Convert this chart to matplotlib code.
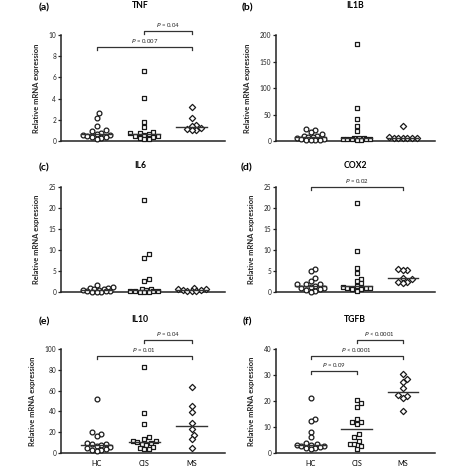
import numpy as np
import matplotlib
matplotlib.use('Agg')
import matplotlib.pyplot as plt

plt.rcParams['font.family'] = ['Lato', 'DejaVu Sans']

groups = ['HC', 'CIS', 'MS']
markers_ = ['o', 's', 'D']

# values, per panel and group
tnf_hc = [2.6, 2.2, 1.4, 1.0, 0.9, 0.8, 0.7, 0.6, 0.55, 0.5, 0.4, 0.35, 0.3, 0.2]
tnf_cis = [6.6, 4.1, 1.75, 1.3, 0.85, 0.8, 0.75, 0.7, 0.6, 0.5, 0.45, 0.4, 0.3, 0.2, 0.15]
tnf_ms = [3.2, 2.15, 1.5, 1.45, 1.2, 1.15, 1.05, 1.0]

il1b_hc = [22, 20, 17.5, 13, 9.5, 8.5, 8, 7, 5, 4, 3, 2.5, 2, 1.5, 1]
il1b_cis = [183, 63, 41, 28, 18, 6, 5.5, 5, 4.5, 4, 3.5, 3, 3, 2.5, 2]
il1b_ms = [29, 7, 6.5, 6, 6, 5.5, 5, 5]

il6_hc = [1.6, 1.2, 1.0, 0.9, 0.7, 0.6, 0.5, 0.4, 0.3, 0.2, 0.15, 0.1, 0.1, 0.05]
il6_cis = [21.8, 9.0, 8.2, 3.2, 2.6, 0.7, 0.6, 0.4, 0.3, 0.25, 0.2, 0.15, 0.1, 0.1, 0.05]
il6_ms = [0.9, 0.8, 0.7, 0.5, 0.4, 0.3, 0.2, 0.2]

cox2_hc = [5.5, 5.0, 3.4, 2.6, 1.9, 1.8, 1.8, 1.5, 1.3, 1.0, 0.9, 0.8, 0.5, 0.3, 0.1]
cox2_cis = [21.1, 9.8, 5.7, 4.5, 3.2, 2.6, 2.1, 1.5, 1.1, 1.0, 1.0, 1.0, 0.8, 0.6, 0.3]
cox2_ms = [5.5, 5.3, 5.2, 3.4, 3.1, 2.5, 2.3, 2.2]

il10_hc = [52, 20, 18, 16.5, 10, 9, 8.5, 8, 7, 6, 5, 4, 3, 2.5, 2]
il10_cis = [83, 38, 28, 15, 13, 12, 12, 11, 10, 9, 8, 6, 5, 4, 4]
il10_ms = [63, 45, 39, 29, 23, 17, 13, 5]

tgfb_hc = [21, 13, 12.4, 8.1, 6.2, 3.9, 3.6, 3.1, 3.0, 2.6, 2.6, 2.3, 2.1, 2.1, 1.5]
tgfb_cis = [20.2, 19.2, 17.8, 13, 12, 12, 11, 7.5, 6.2, 4.8, 3.5, 3.3, 2.8, 1.6]
tgfb_ms = [30.5, 28.5, 27.2, 25, 22.2, 22, 21, 16.2]

titles = ['TNF', 'IL1B', 'IL6', 'COX2', 'IL10', 'TGFB']
letters = ['(a)', '(b)', '(c)', '(d)', '(e)', '(f)']
ymax = [10, 200, 25, 25, 100, 40]
ystep = [2, 50, 5, 5, 20, 10]
data = [
    [tnf_hc, tnf_cis, tnf_ms],
    [il1b_hc, il1b_cis, il1b_ms],
    [il6_hc, il6_cis, il6_ms],
    [cox2_hc, cox2_cis, cox2_ms],
    [il10_hc, il10_cis, il10_ms],
    [tgfb_hc, tgfb_cis, tgfb_ms],
]
# significance brackets: (group from, group to, height, label)
brackets = [
    [(1, 2, 10.4, '0.04', '='), (0, 2, 8.9, '0.007', '=')],
    [],
    [],
    [(0, 2, 25.0, '0.02', '=')],
    [(1, 2, 109, '0.04', '='), (0, 2, 93.5, '0.01', '=')],
    [(1, 2, 43.6, '0.0001', '<'), (0, 2, 37.2, '0.0001', '<'), (0, 1, 31.6, '0.09', '=')],
]

W = H = 474
fig = plt.figure(figsize=(4.74, 4.74), dpi=100)

col_px = [(61, 225), (276, 435)]
row_px = [(35, 141), (187, 292), (349, 453)]
title_y = [5, 165, 319]
title_x = [140, 355]
letter_x = [44, 247]
letter_y = [8, 168, 322]

XLIM = (-0.75, 2.7)
DIAM = 4.6    # marker spacing in px for the swarm
MAXW = 0.36   # widest offset from the group centre (data units)


def swarm(vals, w_px, h_px, top):
    # simple beeswarm with a width cap: returns x offsets (data units)
    sx = w_px / (XLIM[1] - XLIM[0])
    sy = h_px / top
    cands = [0.0]
    k = 1
    while k * DIAM * 0.5 <= MAXW * sx:
        cands += [k * DIAM * 0.5, -k * DIAM * 0.5]
        k += 1
    order = np.argsort(vals)
    placed = []
    offs = np.zeros(len(vals))
    for i in order:
        yp = vals[i] * sy
        best, best_d = 0.0, -1
        for cx in cands:
            d = min([np.hypot(cx - px, yp - py) for px, py in placed] or [99])
            if d >= DIAM:
                best = cx
                break
            if d > best_d:
                best, best_d = cx, d
        placed.append((best, yp))
        offs[i] = best / sx
    return offs


for n in range(6):
    r, c = n // 2, n % 2
    x0, x1 = col_px[c]
    t0, b0 = row_px[r]
    ax = fig.add_axes([x0 / W, 1 - b0 / H, (x1 - x0) / W, (b0 - t0) / H])
    top = ymax[n]
    for g in range(3):
        vals = np.array(data[n][g], dtype=float)
        offs = swarm(vals, x1 - x0, b0 - t0, top)
        ax.scatter(g + offs, vals, marker=markers_[g], s=12 if g < 2 else 10,
                   facecolor='white', edgecolor='#1a1a1a', linewidth=0.9,
                   zorder=3, clip_on=False)
        med = np.median(vals)
        ax.plot([g - 0.33, g + 0.33], [med, med], color='#333333', lw=1.0, zorder=4)

    for g1, g2, h, txt, sign in brackets[n]:
        tick = top * 0.03
        ax.plot([g1, g1, g2, g2], [h - tick, h, h, h - tick], color='#333333',
                lw=0.9, clip_on=False)
        ax.text((g1 + g2) / 2, h + top * 0.02, r'$\it{P}$' + ' %s %s' % (sign, txt),
                ha='center', va='bottom', fontsize=4.3, color='#222222')

    ax.set_xlim(*XLIM)
    ax.set_ylim(0, top)
    ax.set_yticks(np.arange(0, top + 0.001, ystep[n]))
    ax.spines['top'].set_visible(False)
    ax.spines['right'].set_visible(False)
    for s in ['left', 'bottom']:
        ax.spines[s].set_linewidth(1.1)
        ax.spines[s].set_color('#222222')
    ax.tick_params(axis='y', direction='out', length=2.5, width=0.9, pad=1,
                   labelsize=4.7, colors='#222222')
    if r == 2:
        ax.set_xticks([0, 1, 2])
        ax.set_xticklabels(groups)
        ax.tick_params(axis='x', length=0, pad=5, labelsize=5.2)
    else:
        ax.set_xticks([])
    ax.set_ylabel('Relative mRNA expression', fontsize=5.4, fontweight='bold',
                  labelpad=6, color='#222222')
    fig.text(title_x[c] / W, 1 - title_y[r] / H, titles[n], ha='center', va='center',
             fontsize=6.2, fontweight='bold')
    fig.text(letter_x[c] / W, 1 - letter_y[r] / H, letters[n], ha='center', va='center',
             fontsize=7.5, fontweight='bold')

fig.savefig('out.png', dpi=100)
